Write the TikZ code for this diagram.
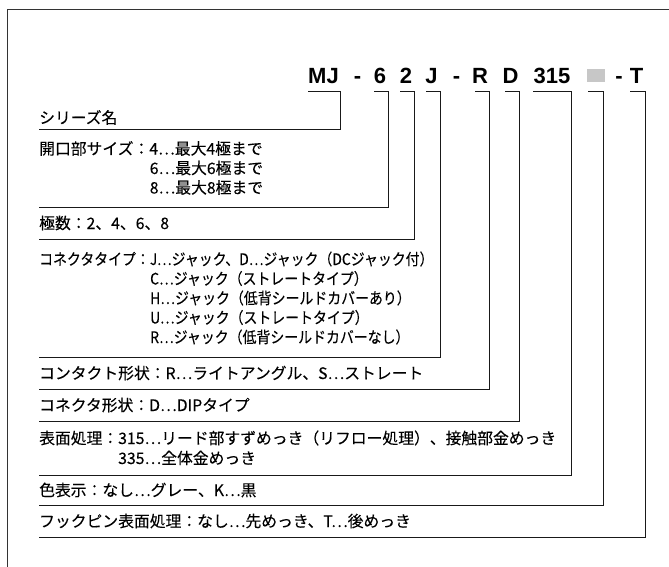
\documentclass[tikz,border=0pt]{standalone}
\usepackage{fontspec}
\setmainfont{Liberation Sans}
\newfontfamily\jpfont[FakeBold=0.12]{Noto Sans CJK JP}
\newfontfamily\jpnarrow[FakeStretch=0.88,FakeBold=0.12]{Noto Sans CJK JP}
\begin{document}
\begin{tikzpicture}[x=1pt,y=-1pt,
  code/.style={font=\fontsize{22}{24}\selectfont\bfseries, inner sep=0pt, anchor=base},
  desc/.style={font=\jpfont\fontsize{15.8}{18}\selectfont, inner sep=0pt, anchor=base west},
  descnarrow/.style={desc, font=\jpnarrow\fontsize{15.8}{18}\selectfont},
  leader/.style={draw=black!90, line width=0.9pt},
  frame/.style={draw=black!80, line width=1.2pt}]
\useasboundingbox (0,0) rectangle (669,567);
\draw[frame] (669,9.5) -- (7.3,9.5) -- (7.3,567);
\node[code] (mj) at (323.5,83.5) {MJ};
\node[code] (d1) at (357.6,83.5) {-};
\node[code] (n6) at (380,83.5) {6};
\node[code] (n2) at (406,83.5) {2};
\node[code] (nj) at (431.5,83.5) {J};
\node[code] (d2) at (456.5,83.5) {-};
\node[code] (nr) at (480,83.5) {R};
\node[code] (nd) at (510.5,83.5) {D};
\node[code] (n315) at (552,83.5) {315};
\node[fill=black!22, minimum width=18pt, minimum height=13pt, inner sep=0pt] (ncol) at (596,76) {};
\node[code] (d3) at (619,83.5) {-};
\node[code] (nt) at (636.5,83.5) {T};
\node[desc] (series) at (39,123.5) {シリーズ名};
\node[desc] (size1) at (39,154.5) {開口部サイズ：4…最大4極まで};
\node[desc] (size2) at (149.6,174) {6…最大6極まで};
\node[desc] (size3) at (149.6,193.5) {8…最大8極まで};
\node[desc] (poles) at (39,229) {極数：2、4、6、8};
\node[descnarrow] (type1) at (39,265) {コネクタタイプ：J…ジャック、D…ジャック（DCジャック付）};
\node[descnarrow] (type2) at (150,284.5) {C…ジャック（ストレートタイプ）};
\node[descnarrow] (type3) at (150,304) {H…ジャック（低背シールドカバーあり）};
\node[descnarrow] (type4) at (150,323.5) {U…ジャック（ストレートタイプ）};
\node[descnarrow] (type5) at (150,343) {R…ジャック（低背シールドカバーなし）};
\node[desc] (contact) at (39,379) {コンタクト形状：R…ライトアングル、S…ストレート};
\node[desc] (shape) at (39,411) {コネクタ形状：D…DIPタイプ};
\node[desc] (plate1) at (39,444) {表面処理：315…リード部すずめっき（リフロー処理）、接触部金めっき};
\node[desc] (plate2) at (118,464) {335…全体金めっき};
\node[desc] (color) at (39,496) {色表示：なし…グレー、K…黒};
\node[desc] (hook) at (39,527) {フックピン表面処理：なし…先めっき、T…後めっき};
\coordinate (h1) at (308,91.7);
\coordinate (e1) at (340,129);
\coordinate (s1) at (39,129);
\draw[leader](h1) -| (e1) -- (s1);
\coordinate (h2) at (374,91.7);
\coordinate (e2) at (388,207);
\coordinate (s2) at (39,207);
\draw[leader](h2) -| (e2) -- (s2);
\coordinate (h3) at (400,91.7);
\coordinate (e3) at (414,239);
\coordinate (s3) at (39,239);
\draw[leader](h3) -| (e3) -- (s3);
\coordinate (h4) at (426,91.7);
\coordinate (e4) at (440,357);
\coordinate (s4) at (39,357);
\draw[leader](h4) -| (e4) -- (s4);
\coordinate (h5) at (475,91.7);
\coordinate (e5) at (489,389);
\coordinate (s5) at (39,389);
\draw[leader](h5) -| (e5) -- (s5);
\coordinate (h6) at (505,91.7);
\coordinate (e6) at (519,421);
\coordinate (s6) at (39,421);
\draw[leader](h6) -| (e6) -- (s6);
\coordinate (h7) at (533,91.7);
\coordinate (e7) at (571,475);
\coordinate (s7) at (39,475);
\draw[leader](h7) -| (e7) -- (s7);
\coordinate (h8) at (588,91.7);
\coordinate (e8) at (603,505);
\coordinate (s8) at (39,505);
\draw[leader](h8) -| (e8) -- (s8);
\coordinate (h9) at (630,91.7);
\coordinate (e9) at (645,537);
\coordinate (s9) at (39,537);
\draw[leader](h9) -| (e9) -- (s9);
\end{tikzpicture}
\end{document}
